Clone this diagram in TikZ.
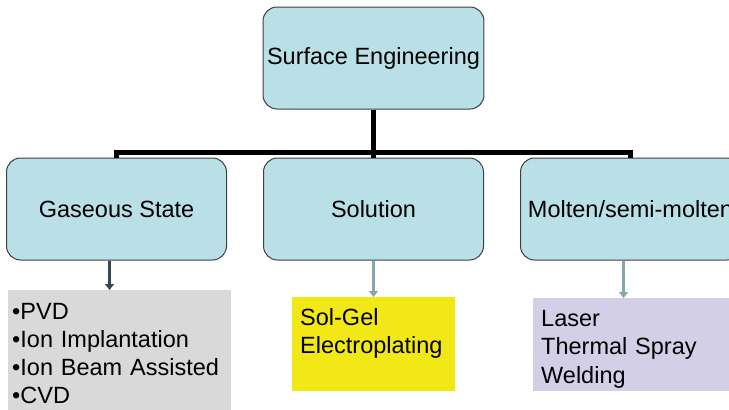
\documentclass[tikz,border=0pt]{standalone}
\usepackage{fontspec}
\setmainfont{Liberation Sans}
\usetikzlibrary{arrows.meta, positioning}

\definecolor{boxBlue}{RGB}{185,224,230}
\definecolor{listGray}{RGB}{217,217,217}
\definecolor{listYellow}{RGB}{242,232,22}
\definecolor{listLilac}{RGB}{210,207,230}
\definecolor{linkDark}{RGB}{52,72,80}
\definecolor{linkLight}{RGB}{134,167,173}

\begin{document}
\begin{tikzpicture}[x=1pt, y=-1pt, node distance=36pt, font=\fontsize{23.5}{28}\selectfont,
    topic/.style={rectangle, draw=black!75, line width=1pt, rounded corners=14pt, fill=boxBlue, inner sep=4pt, minimum width=220pt, minimum height=102pt},
    list/.style={rectangle, anchor=north west, align=left, inner xsep=8pt, inner ysep=11pt},
    trunk/.style={line width=5pt, black, line join=miter},
    link/.style={line width=3pt, linkLight, -{Triangle[width=9pt, length=6pt]}}]

            \useasboundingbox (0,0) rectangle (729,410);

            % Root node
            \node[topic] (surface) at (373.5,58) {Surface Engineering};

            % Categories
            \node[topic, below=48pt of surface] (solution) {Solution};
            \node[topic, left=of solution] (gaseous) {Gaseous State};
            \node[topic, right=of solution] (molten) {Molten/semi-molten};

            % Processes
            \node[list, fill=listGray, inner xsep=4pt, inner ysep=13.5pt, text width=215pt, text depth=120pt] (gaseousList) at (8,290) {•PVD\\•Ion Implantation\\•Ion Beam Assisted\\•CVD};
            \node[list, fill=listYellow, text width=147pt, text depth=55pt] (solutionList) at (292,297) {Sol-Gel\\Electroplating};
            \node[list, fill=listLilac, font=\fontsize{23.5}{28.5}\selectfont, text width=211pt, inner ysep=12pt, text depth=53pt] (moltenList) at (533,298) {Laser\\Thermal Spray\\Welding};

            % Tree lines
            \coordinate[below=43pt of surface.south] (hub);
            \draw[trunk] (surface) -- (hub);
            \draw[trunk] (gaseous.north) |- (hub) -| (molten.north);
            \draw[trunk] (hub) -- (solution.north);

            % Arrows
            \draw[link, draw=linkDark] ([xshift=-7pt]gaseous.south) -- ([xshift=-7pt]gaseous.south |- gaseousList.north);
            \draw[link] (solution.south) -- (solution.south |- solutionList.north);
            \draw[link] ([xshift=-7pt]molten.south) -- ([xshift=-7pt]molten.south |- moltenList.north);

        \end{tikzpicture}
\end{document}
